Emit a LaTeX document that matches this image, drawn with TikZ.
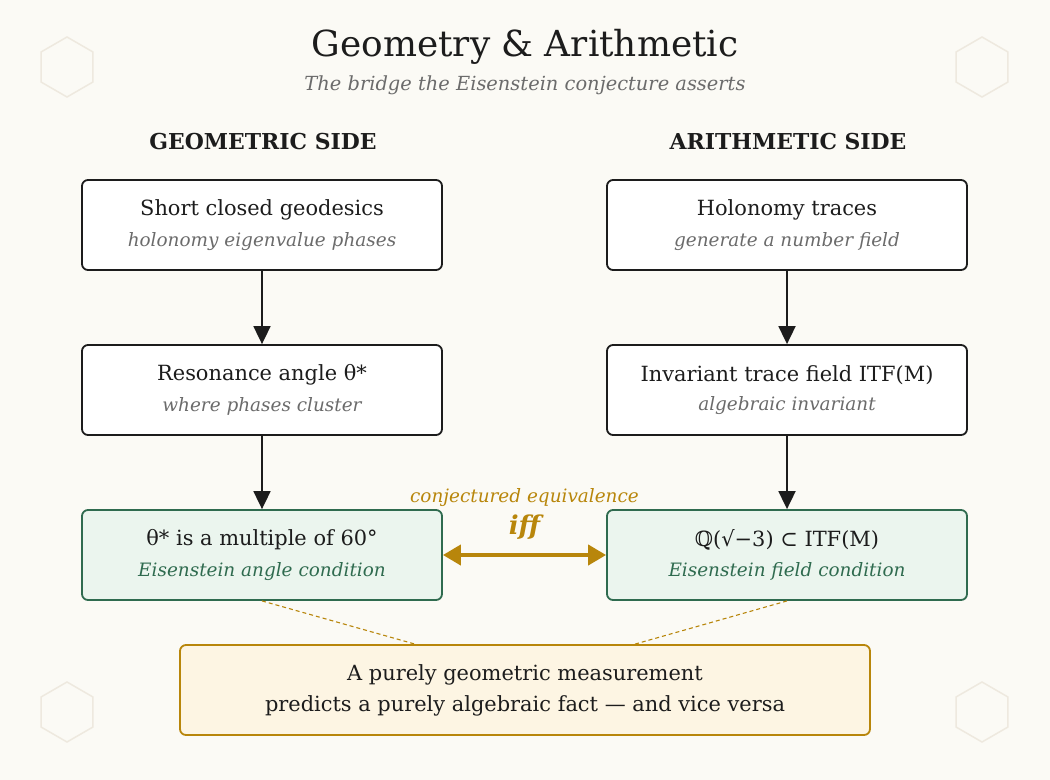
\documentclass[tikz,border=0pt]{standalone}
\usepackage{fontspec}
\setmainfont{DejaVu Serif}
\usetikzlibrary{arrows.meta, positioning}
\definecolor{paper}{HTML}{FBFAF5}
\definecolor{ink}{HTML}{1C1C1C}
\definecolor{muted}{HTML}{6B6B6B}
\definecolor{gold}{HTML}{B8860B}
\definecolor{eisgreen}{HTML}{2F6B4F}
\definecolor{eisfill}{HTML}{EBF5EE}
\definecolor{notefill}{HTML}{FDF5E3}
\definecolor{hexline}{HTML}{EEE9DF}
\newcommand{\boxtext}[2]{{\fontsize{21}{24}\selectfont #1}\\[11bp]{\fontsize{18.5}{23}\selectfont\itshape\color{subtone}#2}}
\tikzstyle{stepbox} = [rectangle, rounded corners=6bp, minimum width=360bp, minimum height=90bp, align=center, draw=ink, line width=1.8bp, fill=white, text=ink, execute at begin node=\colorlet{subtone}{muted}]
\tikzstyle{eisbox} = [stepbox, draw=eisgreen, fill=eisfill, execute at begin node=\colorlet{subtone}{eisgreen}]
\tikzstyle{notebox} = [rectangle, rounded corners=6bp, minimum width=690bp, minimum height=90bp, align=center, draw=gold, line width=1.8bp, fill=notefill, text=ink, font=\fontsize{21}{31}\selectfont]
\tikzstyle{sidehead} = [text=ink, font=\fontsize{22}{24}\selectfont\bfseries]
\tikzstyle{arrow} = [line width=1.8bp, draw=ink, -{Triangle[width=17bp,length=18bp]}]
\tikzstyle{iffarrow} = [line width=4bp, draw=gold, {Triangle[width=20bp,length=18bp]}-{Triangle[width=20bp,length=18bp]}]
\tikzstyle{link} = [draw=gold, line width=1.1bp, dash pattern=on 4bp off 3bp]
\begin{document}
\begin{tikzpicture}[x=1bp, y=1bp, node distance=165bp]
    \fill[paper] (0,0) rectangle (1050,-780);
    \foreach \hx/\hy in {67/67, 982/67, 67/712, 982/712}
        \draw[hexline, line width=1.5bp] (\hx,-\hy) +(90:30) -- +(150:30) -- +(210:30) -- +(270:30) -- +(330:30) -- +(30:30) -- cycle;

    \node (title) at (525,-47) {\fontsize{36}{40}\selectfont\color{ink}Geometry \& Arithmetic};
    \node (subtitle) at (525,-85) {\fontsize{19.5}{22}\selectfont\itshape\color{muted}The bridge the Eisenstein conjecture asserts};
    \node (geoside) [sidehead] at (263,-142) {GEOMETRIC SIDE};
    \node (arithside) [sidehead] at (788,-142) {ARITHMETIC SIDE};

    \node (geodesics) [stepbox] at (262,-225) {\boxtext{Short closed geodesics}{holonomy eigenvalue phases}};
    \node (resonance) [stepbox, below of=geodesics] {\boxtext{Resonance angle θ*}{where phases cluster}};
    \node (condangle) [eisbox, below of=resonance] {\boxtext{θ* is a multiple of 60°}{Eisenstein angle condition}};
    \node (holonomy) [stepbox, right of=geodesics, xshift=360bp] {\boxtext{Holonomy traces}{generate a number field}};
    \node (itf) [stepbox, below of=holonomy] {\boxtext{Invariant trace field ITF(M)}{algebraic invariant}};
    \node (condfield) [eisbox, below of=itf] {\boxtext{ℚ(√−3) ⊂ ITF(M)}{Eisenstein field condition}};
    \node (bridge) [notebox, below of=condangle, xshift=263bp, yshift=30bp] {A purely geometric measurement\\predicts a purely algebraic fact — and vice versa};

    \coordinate (bridgeleft) at ([xshift=-110bp]bridge.north);
    \coordinate (bridgeright) at ([xshift=110bp]bridge.north);

    \draw [arrow] (geodesics) -- (resonance);
    \draw [arrow] (resonance) -- (condangle);
    \draw [arrow] (holonomy) -- (itf);
    \draw [arrow] (itf) -- (condfield);
    \draw [iffarrow] (condangle) -- node (ifflabel) [above=10bp, text=gold, font=\fontsize{26}{28}\selectfont\bfseries\itshape] {iff} (condfield);
    \node (conjlabel) [above=0bp of ifflabel, text=gold, font=\fontsize{18.5}{20}\selectfont\itshape] {conjectured equivalence};
    \draw [link] (condangle.south) -- (bridgeleft);
    \draw [link] (condfield.south) -- (bridgeright);
\end{tikzpicture}
\end{document}
